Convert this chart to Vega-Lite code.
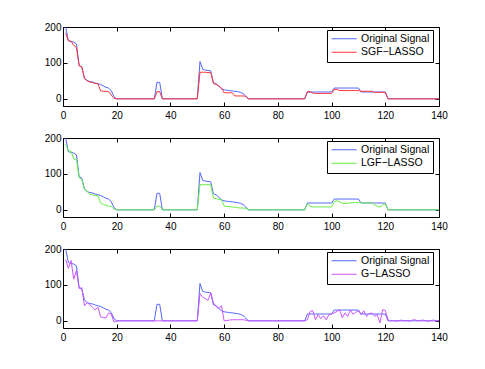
{
  "$schema": "https://vega.github.io/schema/vega-lite/v6.json",
  "background": "white",
  "padding": {"left": 43, "top": 21, "right": 5, "bottom": 5},
  "spacing": 11,
  "config": {
    "view": {"stroke": "black", "strokeWidth": 1},
    "axis": {"labelFont": "Liberation Sans", "labelFontSize": 10, "labelColor": "black", "tickColor": "black", "tickSize": -4, "domain": false, "grid": false, "title": null},
    "legend": {"strokeColor": "black", "fillColor": "white", "padding": 3.5, "labelFont": "Liberation Sans", "labelFontSize": 10.5, "labelColor": "black", "symbolType": "M-1,0H5", "symbolSize": 70, "symbolStrokeWidth": 1, "labelOffset": 20, "rowPadding": 2.5, "cornerRadius": 0}
  },
  "datasets": {
    "sig": [
      {"x":1,"o":200,"r":183,"l":183,"g":170},
      {"x":2,"o":162,"r":162,"l":164,"g":146},
      {"x":3,"o":160,"r":160,"l":163,"g":168},
      {"x":4,"o":158,"r":149,"l":141,"g":116},
      {"x":5,"o":153,"r":143,"l":141,"g":140},
      {"x":6,"o":93,"r":92,"l":89,"g":90},
      {"x":7,"o":88,"r":89,"l":85,"g":92},
      {"x":8,"o":58,"r":56,"l":56,"g":42},
      {"x":9,"o":51,"r":50,"l":52,"g":51},
      {"x":10,"o":48,"r":47,"l":43,"g":44},
      {"x":11,"o":47,"r":45,"l":42,"g":38},
      {"x":12,"o":44,"r":43,"l":40,"g":30},
      {"x":13,"o":42,"r":42,"l":39,"g":38},
      {"x":14,"o":40,"r":22,"l":19,"g":11},
      {"x":15,"o":36,"r":21,"l":15,"g":9},
      {"x":16,"o":32,"r":21,"l":13,"g":8},
      {"x":17,"o":30,"r":20,"l":10,"g":22},
      {"x":18,"o":22,"r":10,"l":9,"g":18},
      {"x":19,"o":6,"r":1,"l":2,"g":-4},
      {"x":20,"o":0,"r":0,"l":0,"g":0},
      {"x":21,"o":0,"r":0,"l":0,"g":0},
      {"x":22,"o":0,"r":0,"l":0,"g":0},
      {"x":23,"o":0,"r":0,"l":0,"g":0},
      {"x":24,"o":0,"r":0,"l":0,"g":0},
      {"x":25,"o":0,"r":0,"l":0,"g":0},
      {"x":26,"o":0,"r":0,"l":0,"g":0},
      {"x":27,"o":0,"r":0,"l":0,"g":0},
      {"x":28,"o":0,"r":0,"l":0,"g":0},
      {"x":29,"o":0,"r":0,"l":0,"g":0},
      {"x":30,"o":0,"r":0,"l":0,"g":0},
      {"x":31,"o":0,"r":0,"l":0,"g":0},
      {"x":32,"o":0,"r":0,"l":0,"g":0},
      {"x":33,"o":0,"r":0,"l":0,"g":0},
      {"x":34,"o":0,"r":0,"l":0,"g":0},
      {"x":35,"o":46,"r":20,"l":10,"g":0},
      {"x":36,"o":46,"r":20,"l":10,"g":0},
      {"x":37,"o":0,"r":0,"l":0,"g":0},
      {"x":38,"o":0,"r":0,"l":0,"g":0},
      {"x":39,"o":0,"r":0,"l":0,"g":0},
      {"x":40,"o":0,"r":0,"l":0,"g":0},
      {"x":41,"o":0,"r":0,"l":0,"g":0},
      {"x":42,"o":0,"r":0,"l":0,"g":0},
      {"x":43,"o":0,"r":0,"l":0,"g":0},
      {"x":44,"o":0,"r":0,"l":0,"g":0},
      {"x":45,"o":0,"r":0,"l":0,"g":0},
      {"x":46,"o":0,"r":0,"l":0,"g":0},
      {"x":47,"o":0,"r":0,"l":0,"g":0},
      {"x":48,"o":0,"r":0,"l":0,"g":0},
      {"x":49,"o":0,"r":0,"l":0,"g":0},
      {"x":50,"o":0,"r":0,"l":0,"g":0},
      {"x":51,"o":104,"r":74,"l":70,"g":76},
      {"x":52,"o":82,"r":74,"l":70,"g":66},
      {"x":53,"o":80,"r":74,"l":70,"g":62},
      {"x":54,"o":79,"r":73,"l":70,"g":57},
      {"x":55,"o":78,"r":73,"l":70,"g":78},
      {"x":56,"o":45,"r":43,"l":33,"g":50},
      {"x":57,"o":42,"r":40,"l":31,"g":40},
      {"x":58,"o":35,"r":36,"l":29,"g":34},
      {"x":59,"o":28,"r":30,"l":28,"g":42},
      {"x":60,"o":25,"r":17,"l":11,"g":0},
      {"x":61,"o":24,"r":17,"l":9,"g":1},
      {"x":62,"o":23,"r":17,"l":9,"g":2},
      {"x":63,"o":22,"r":17,"l":8,"g":3},
      {"x":64,"o":21,"r":8,"l":7,"g":3},
      {"x":65,"o":20,"r":8,"l":6,"g":3},
      {"x":66,"o":18,"r":8,"l":5,"g":3},
      {"x":67,"o":15,"r":8,"l":5,"g":3},
      {"x":68,"o":8,"r":7,"l":4,"g":2},
      {"x":69,"o":0,"r":0,"l":0,"g":0},
      {"x":70,"o":0,"r":0,"l":0,"g":0},
      {"x":71,"o":0,"r":0,"l":0,"g":0},
      {"x":72,"o":0,"r":0,"l":0,"g":0},
      {"x":73,"o":0,"r":0,"l":0,"g":0},
      {"x":74,"o":0,"r":0,"l":0,"g":0},
      {"x":75,"o":0,"r":0,"l":0,"g":0},
      {"x":76,"o":0,"r":0,"l":0,"g":0},
      {"x":77,"o":0,"r":0,"l":0,"g":0},
      {"x":78,"o":0,"r":0,"l":0,"g":0},
      {"x":79,"o":0,"r":0,"l":0,"g":0},
      {"x":80,"o":0,"r":0,"l":0,"g":0},
      {"x":81,"o":0,"r":0,"l":0,"g":0},
      {"x":82,"o":0,"r":0,"l":0,"g":0},
      {"x":83,"o":0,"r":0,"l":0,"g":0},
      {"x":84,"o":0,"r":0,"l":0,"g":0},
      {"x":85,"o":0,"r":0,"l":0,"g":0},
      {"x":86,"o":0,"r":0,"l":0,"g":0},
      {"x":87,"o":0,"r":0,"l":0,"g":0},
      {"x":88,"o":0,"r":0,"l":0,"g":0},
      {"x":89,"o":0,"r":0,"l":0,"g":0},
      {"x":90,"o":0,"r":0,"l":0,"g":0},
      {"x":91,"o":19,"r":20,"l":17,"g":3},
      {"x":92,"o":19,"r":20,"l":10,"g":26},
      {"x":93,"o":19,"r":16,"l":8,"g":28},
      {"x":94,"o":19,"r":15,"l":8,"g":3},
      {"x":95,"o":19,"r":15,"l":8,"g":17},
      {"x":96,"o":19,"r":15,"l":8,"g":6},
      {"x":97,"o":19,"r":15,"l":8,"g":14},
      {"x":98,"o":19,"r":15,"l":8,"g":3},
      {"x":99,"o":19,"r":15,"l":8,"g":17},
      {"x":100,"o":19,"r":15,"l":8,"g":19},
      {"x":101,"o":30,"r":26,"l":23,"g":22},
      {"x":102,"o":30,"r":26,"l":25,"g":26},
      {"x":103,"o":30,"r":23,"l":22,"g":31},
      {"x":104,"o":30,"r":23,"l":18,"g":8},
      {"x":105,"o":30,"r":23,"l":17,"g":22},
      {"x":106,"o":30,"r":23,"l":19,"g":12},
      {"x":107,"o":30,"r":23,"l":19,"g":30},
      {"x":108,"o":30,"r":23,"l":20,"g":18},
      {"x":109,"o":30,"r":23,"l":20,"g":24},
      {"x":110,"o":30,"r":23,"l":20,"g":28},
      {"x":111,"o":19,"r":21,"l":19,"g":17},
      {"x":112,"o":19,"r":21,"l":19,"g":28},
      {"x":113,"o":19,"r":21,"l":19,"g":12},
      {"x":114,"o":19,"r":21,"l":19,"g":20},
      {"x":115,"o":19,"r":21,"l":19,"g":22},
      {"x":116,"o":19,"r":18,"l":14,"g":13},
      {"x":117,"o":19,"r":18,"l":10,"g":17},
      {"x":118,"o":19,"r":18,"l":8,"g":-6},
      {"x":119,"o":19,"r":18,"l":13,"g":31},
      {"x":120,"o":19,"r":18,"l":17,"g":29},
      {"x":121,"o":0,"r":0,"l":0,"g":3},
      {"x":122,"o":0,"r":0,"l":0,"g":0},
      {"x":123,"o":0,"r":0,"l":0,"g":1},
      {"x":124,"o":0,"r":0,"l":0,"g":-1},
      {"x":125,"o":0,"r":0,"l":0,"g":0},
      {"x":126,"o":0,"r":0,"l":0,"g":2},
      {"x":127,"o":0,"r":0,"l":0,"g":0},
      {"x":128,"o":0,"r":0,"l":0,"g":1},
      {"x":129,"o":0,"r":0,"l":0,"g":-1},
      {"x":130,"o":0,"r":0,"l":0,"g":2},
      {"x":131,"o":0,"r":0,"l":0,"g":3},
      {"x":132,"o":0,"r":0,"l":0,"g":0},
      {"x":133,"o":0,"r":0,"l":0,"g":1},
      {"x":134,"o":0,"r":0,"l":0,"g":2},
      {"x":135,"o":0,"r":0,"l":0,"g":0},
      {"x":136,"o":0,"r":0,"l":0,"g":-1},
      {"x":137,"o":0,"r":0,"l":0,"g":1},
      {"x":138,"o":0,"r":0,"l":0,"g":2},
      {"x":139,"o":0,"r":0,"l":0,"g":0},
      {"x":140,"o":0,"r":0,"l":0,"g":1}
    ]
  },
  "resolve": {"scale": {"color": "independent"}, "legend": {"color": "independent"}},
  "vconcat": [
    {
      "width": 376, "height": 79,
      "data": {"name": "sig"},
      "transform": [{"fold": ["o", "r"], "as": ["k", "v"]}],
      "layer": [
        {
          "mark": {"type": "line", "strokeWidth": 1},
          "encoding": {
            "x": {"field": "x", "type": "quantitative", "scale": {"domain": [0, 140], "nice": false}, "axis": {"orient": "bottom", "values": [0,20,40,60,80,100,120,140], "labelFlush": false, "labelPadding": 8}},
            "y": {"field": "v", "type": "quantitative", "scale": {"domain": [-20, 200], "nice": false, "zero": false}, "axis": {"orient": "left", "values": [0,100,200], "labelPadding": 6}},
            "color": {"field": "k", "type": "nominal", "scale": {"domain": ["o", "r"], "range": ["#5566ff", "#ff3333"]}, "legend": {"title": null, "orient": "none", "legendX": 264, "legendY": 3, "labelExpr": "datum.label == 'o' ? 'Original Signal' : 'SGF\u2212LASSO'"}}
          }
        },
        {
          "mark": {"type": "point", "opacity": 0},
          "encoding": {
            "x": {"field": "x", "type": "quantitative", "scale": {"domain": [0, 140], "nice": false}, "axis": {"orient": "top", "values": [0,20,40,60,80,100,120,140], "labels": false}},
            "y": {"field": "v", "type": "quantitative", "scale": {"domain": [-20, 200], "nice": false, "zero": false}, "axis": {"orient": "right", "values": [0,100,200], "labels": false}}
          }
        }
      ],
      "resolve": {"axis": {"x": "independent", "y": "independent"}}
    },
    {
      "width": 376, "height": 79,
      "data": {"name": "sig"},
      "transform": [{"fold": ["o", "l"], "as": ["k", "v"]}],
      "layer": [
        {
          "mark": {"type": "line", "strokeWidth": 1},
          "encoding": {
            "x": {"field": "x", "type": "quantitative", "scale": {"domain": [0, 140], "nice": false}, "axis": {"orient": "bottom", "values": [0,20,40,60,80,100,120,140], "labelFlush": false, "labelPadding": 8}},
            "y": {"field": "v", "type": "quantitative", "scale": {"domain": [-20, 200], "nice": false, "zero": false}, "axis": {"orient": "left", "values": [0,100,200], "labelPadding": 6}},
            "color": {"field": "k", "type": "nominal", "scale": {"domain": ["o", "l"], "range": ["#5566ff", "#66ee44"]}, "legend": {"title": null, "orient": "none", "legendX": 264, "legendY": 3, "labelExpr": "datum.label == 'o' ? 'Original Signal' : 'LGF\u2212LASSO'"}}
          }
        },
        {
          "mark": {"type": "point", "opacity": 0},
          "encoding": {
            "x": {"field": "x", "type": "quantitative", "scale": {"domain": [0, 140], "nice": false}, "axis": {"orient": "top", "values": [0,20,40,60,80,100,120,140], "labels": false}},
            "y": {"field": "v", "type": "quantitative", "scale": {"domain": [-20, 200], "nice": false, "zero": false}, "axis": {"orient": "right", "values": [0,100,200], "labels": false}}
          }
        }
      ],
      "resolve": {"axis": {"x": "independent", "y": "independent"}}
    },
    {
      "width": 376, "height": 79,
      "data": {"name": "sig"},
      "transform": [{"fold": ["o", "g"], "as": ["k", "v"]}],
      "layer": [
        {
          "mark": {"type": "line", "strokeWidth": 1},
          "encoding": {
            "x": {"field": "x", "type": "quantitative", "scale": {"domain": [0, 140], "nice": false}, "axis": {"orient": "bottom", "values": [0,20,40,60,80,100,120,140], "labelFlush": false, "labelPadding": 8}},
            "y": {"field": "v", "type": "quantitative", "scale": {"domain": [-20, 200], "nice": false, "zero": false}, "axis": {"orient": "left", "values": [0,100,200], "labelPadding": 6}},
            "color": {"field": "k", "type": "nominal", "scale": {"domain": ["o", "g"], "range": ["#5566ff", "#cc55ff"]}, "legend": {"title": null, "orient": "none", "legendX": 264, "legendY": 3, "labelExpr": "datum.label == 'o' ? 'Original Signal' : 'G\u2212LASSO'"}}
          }
        },
        {
          "mark": {"type": "point", "opacity": 0},
          "encoding": {
            "x": {"field": "x", "type": "quantitative", "scale": {"domain": [0, 140], "nice": false}, "axis": {"orient": "top", "values": [0,20,40,60,80,100,120,140], "labels": false}},
            "y": {"field": "v", "type": "quantitative", "scale": {"domain": [-20, 200], "nice": false, "zero": false}, "axis": {"orient": "right", "values": [0,100,200], "labels": false}}
          }
        }
      ],
      "resolve": {"axis": {"x": "independent", "y": "independent"}}
    }
  ]
}
